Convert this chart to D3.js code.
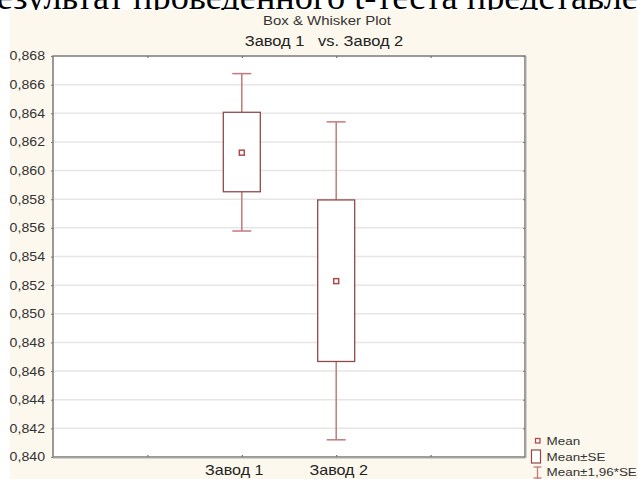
<!DOCTYPE html>
<html><head><meta charset="utf-8">
<script src="https://cdn.jsdelivr.net/npm/d3@7"></script>
<style>html,body{margin:0;padding:0;background:#fff;overflow:hidden}</style>
</head><body>
<svg id="c" width="638" height="479"></svg>
<script>
const categories = ["Завод 1", "Завод 2"];
const means = [0.86125, 0.85228];
const seLow = [0.85852, 0.84667];
const seHigh = [0.86407, 0.85795];
const ciLow = [0.85578, 0.84120];
const ciHigh = [0.86677, 0.86340];
const yTicks = [0.840,0.842,0.844,0.846,0.848,0.850,0.852,0.854,0.856,0.858,0.860,0.862,0.864,0.866,0.868];
const legendLabels = ["Mean", "Mean±SE", "Mean±1,96*SE"];
const title = "Box & Whisker Plot";
const subtitle = "Завод 1   vs. Завод 2";
const docText = "Результат проведенного t-теста представлен";

const svg = d3.select("#c");
const W = 638, H = 479;
const L = 53, R = 525, T = 56, B = 457;
const y = d3.scaleLinear().domain([0.840, 0.868]).range([B, T]);
const x = d3.scaleLinear().domain([0, 5]).range([L, R]);
const fmt = d => d3.format(".3f")(d).replace(".", ",");
const boxStroke = "#8e4a4a", whisk = "#c27a7a";
const sans = "Liberation Sans, Arial, sans-serif";
const SX = 1.15;
function stretch(sel, sx) {
  sel.each(function () {
    const t = d3.select(this);
    const xv = +t.attr("x") || 0;
    t.attr("x", xv / sx).attr("transform", `scale(${sx},1)`);
  });
}

// document text above (mostly clipped)
svg.append("text").attr("x", -23).attr("y", 8.5)
  .attr("font-family", "Liberation Serif, Times New Roman, serif").attr("font-size", 36.3)
  .attr("fill", "#000").text(docText);

// cream panel
svg.append("rect").attr("x", 10).attr("y", 10).attr("width", W - 10).attr("height", H - 10).attr("fill", "#fdf8ed");

// titles
const t1 = svg.append("text").attr("x", 327).attr("y", 25).attr("text-anchor", "middle")
  .attr("font-family", sans).attr("font-size", 13).attr("fill", "#333").text(title);
const t2 = svg.append("text").attr("x", 324).attr("y", 46).attr("text-anchor", "middle")
  .attr("font-family", sans).attr("font-size", 14.3).attr("fill", "#222")
  .style("white-space", "pre").text(subtitle);
stretch(t1, SX); stretch(t2, SX);

// plot area
svg.append("rect").attr("x", L).attr("y", T).attr("width", R - L).attr("height", B - T).attr("fill", "#fff");

// grid
svg.append("g").selectAll("line").data(yTicks.slice(1, -1)).join("line")
  .attr("x1", L).attr("x2", R).attr("y1", d => y(d)).attr("y2", d => y(d))
  .attr("stroke", "#e6e6e6").attr("stroke-width", 1.5);

// y axis via d3
const yAxis = d3.axisLeft(y).tickValues(yTicks).tickFormat(fmt).tickSize(2).tickPadding(6);
const gy = svg.append("g").attr("transform", `translate(${L},0)`).call(yAxis);
gy.select(".domain").remove();
gy.selectAll("line").attr("stroke", "#777");
gy.selectAll("text").attr("font-family", sans).attr("font-size", 12.3).attr("fill", "#333");
stretch(gy.selectAll("text"), SX);

// right ticks
const gr = svg.append("g").attr("transform", `translate(${R},0)`)
  .call(d3.axisLeft(y).tickValues(yTicks).tickFormat("").tickSize(2));
gr.select(".domain").remove();
gr.selectAll("line").attr("stroke", "#777");

// x axis
const labelShift = { 2: -8, 3: 2 };
const xAxis = d3.axisBottom(x).tickValues([1, 2, 3, 4])
  .tickFormat(d => (d === 2 || d === 3) ? categories[d - 2] : "").tickSize(-2).tickPadding(8);
const gx = svg.append("g").attr("transform", `translate(0,${B})`).call(xAxis);
gx.select(".domain").remove();
gx.selectAll("line").attr("stroke", "#555");
gx.selectAll("text").attr("font-family", sans).attr("font-size", 14).attr("fill", "#222")
  .attr("x", d => labelShift[d] || 0);
stretch(gx.selectAll("text"), SX);
const gt = svg.append("g").attr("transform", `translate(0,${T})`)
  .call(d3.axisTop(x).tickValues([1, 2, 3, 4]).tickFormat("").tickSize(-2));
gt.select(".domain").remove();
gt.selectAll("line").attr("stroke", "#555");

// frame
svg.append("rect").attr("x", L).attr("y", T).attr("width", R - L).attr("height", B - T)
  .attr("fill", "none").attr("stroke", "#7a7a7a").attr("stroke-width", 1.5);
svg.append("line").attr("x1", L).attr("x2", R).attr("y1", B + 1).attr("y2", B + 1).attr("stroke", "#aaa").attr("stroke-width", 1);
svg.append("line").attr("x1", R + 1).attr("x2", R + 1).attr("y1", T).attr("y2", B + 1).attr("stroke", "#aaa").attr("stroke-width", 1);

// boxes
const data = categories.map((c, i) => ({ c, i, m: means[i], lo: seLow[i], hi: seHigh[i], cl: ciLow[i], ch: ciHigh[i] }));
const bw = 37, cw = 19;
const g = svg.append("g").selectAll("g").data(data).join("g");
g.append("line").attr("x1", d => x(d.i + 2)).attr("x2", d => x(d.i + 2))
  .attr("y1", d => y(d.ch)).attr("y2", d => y(d.hi)).attr("stroke", whisk).attr("stroke-width", 1.5);
g.append("line").attr("x1", d => x(d.i + 2)).attr("x2", d => x(d.i + 2))
  .attr("y1", d => y(d.lo)).attr("y2", d => y(d.cl)).attr("stroke", whisk).attr("stroke-width", 1.5);
g.append("line").attr("x1", d => x(d.i + 2) - cw / 2).attr("x2", d => x(d.i + 2) + cw / 2)
  .attr("y1", d => y(d.ch)).attr("y2", d => y(d.ch)).attr("stroke", whisk).attr("stroke-width", 1.5);
g.append("line").attr("x1", d => x(d.i + 2) - cw / 2).attr("x2", d => x(d.i + 2) + cw / 2)
  .attr("y1", d => y(d.cl)).attr("y2", d => y(d.cl)).attr("stroke", whisk).attr("stroke-width", 1.5);
g.append("rect").attr("x", d => x(d.i + 2) - bw / 2).attr("width", bw)
  .attr("y", d => y(d.hi)).attr("height", d => y(d.lo) - y(d.hi))
  .attr("fill", "#fff").attr("stroke", boxStroke).attr("stroke-width", 1.3);
g.append("rect").attr("x", d => x(d.i + 2) - 2.5).attr("y", d => y(d.m) - 2.5).attr("width", 5).attr("height", 5)
  .attr("fill", "#fff").attr("stroke", "#b04a4a").attr("stroke-width", 1.5);

// legend
const lg = svg.append("g").attr("font-family", sans).attr("font-size", 11.7).attr("fill", "#333");
lg.append("rect").attr("x", 535.5).attr("y", 438.5).attr("width", 4.5).attr("height", 4.5).attr("fill", "#fff").attr("stroke", "#b04a4a").attr("stroke-width", 1.3);
lg.append("rect").attr("x", 531.5).attr("y", 450).attr("width", 9).attr("height", 13).attr("fill", "#fff").attr("stroke", boxStroke).attr("stroke-width", 1.2);
lg.append("line").attr("x1", 537.5).attr("x2", 537.5).attr("y1", 467).attr("y2", 479).attr("stroke", whisk).attr("stroke-width", 1.3);
lg.append("line").attr("x1", 533.5).attr("x2", 541.5).attr("y1", 467).attr("y2", 467).attr("stroke", whisk).attr("stroke-width", 1.3);
lg.append("line").attr("x1", 533.5).attr("x2", 541.5).attr("y1", 478).attr("y2", 478).attr("stroke", whisk).attr("stroke-width", 1.3);
const lt = lg.selectAll("text").data(legendLabels).join("text")
  .attr("x", 546.5).attr("y", (d, i) => [445, 461, 476][i]).text(d => d);
stretch(lt, SX);
</script>
</body></html>
